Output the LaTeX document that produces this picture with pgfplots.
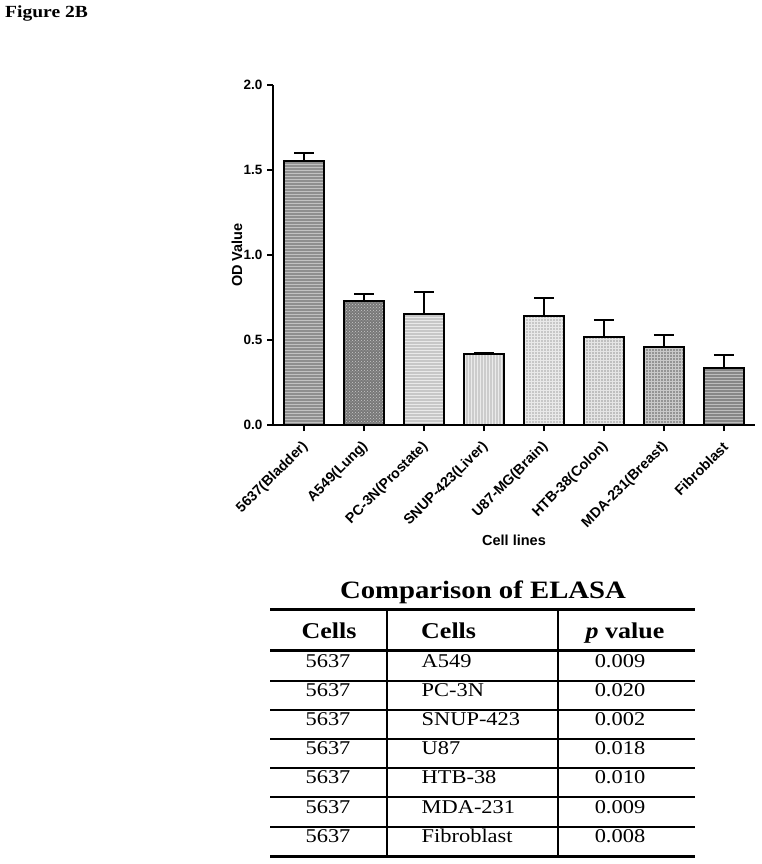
\documentclass[border=0pt]{standalone}
\usepackage{pgfplots}
\pgfplotsset{compat=1.18}
\usepackage{fontspec}
\setmainfont{Liberation Sans}
\newfontfamily\tabfont[FakeStretch=1.15]{Liberation Serif}
\usetikzlibrary{patterns}

\definecolor{fillA}{gray}{0.56}
\definecolor{fillB}{gray}{0.47}
\definecolor{fillC}{gray}{0.78}
\definecolor{fillD}{gray}{0.80}
\definecolor{fillE}{gray}{0.78}
\definecolor{fillF}{gray}{0.75}
\definecolor{fillG}{gray}{0.58}
\definecolor{fillH}{gray}{0.53}

\pgfplotsset{
  mybar/.style={ybar, bar shift=0pt, bar width=40pt, draw=black, line width=1.8pt,
    error bars/.cd, y dir=plus, y explicit,
    error bar style={line width=1.8pt, black},
    error mark options={rotate=90, line width=1.8pt, mark size=10pt, black}},
}

\begin{document}
\begin{tikzpicture}
\begin{scope}[x=1pt,y=-1pt]
\path[use as bounding box] (0,0) rectangle (762,864);
\end{scope}

\begin{axis}[
  at={(273pt,-425pt)}, anchor=south west,
  scale only axis, width=482pt, height=340pt,
  xmin=-0.517, xmax=7.517, ymin=0, ymax=2,
  axis x line*=bottom, axis y line*=left,
  axis line style={-, line width=2.4pt},
  tick align=outside, major tick length=6pt,
  tick style={line width=2pt, black},
  xtick={0,...,7},
  xticklabels={5637(Bladder), A549(Lung), PC-3N(Prostate), SNUP-423(Liver),
               U87-MG(Brain), HTB-38(Colon), MDA-231(Breast), Fibroblast},
  ytick={0,0.5,...,2},
  yticklabel style={font=\fontsize{13.5}{15}\selectfont\bfseries,
    /pgf/number format/.cd, fixed, fixed zerofill, precision=1, assume math mode=true},
  xticklabel style={xshift=4pt, rotate=45, anchor=east, font=\fontsize{14.2}{16}\selectfont\bfseries},
  xticklabel shift=11pt,
  yticklabel shift=1pt,
  xlabel={Cell lines}, ylabel={OD Value},
  label style={font=\fontsize{14.5}{17}\selectfont\bfseries},
  xlabel style={at={(axis description cs:0.5,-0.338)}, anchor=center},
  ylabel style={at={(axis description cs:-0.0747,0.5)}, anchor=center},
  clip=false,
]
\addplot[fill=fillA, postaction={pattern=horizontal lines, pattern color=white!45!fillA}, mybar]
  coordinates {(0,1.555) +- (0,0.043)};
\addplot[fill=fillB, postaction={pattern=crosshatch dots, pattern color=white!60!fillB}, mybar]
  coordinates {(1,0.729) +- (0,0.041)};
\addplot[fill=fillC, postaction={pattern=horizontal lines, pattern color=white!60!fillC}, mybar]
  coordinates {(2,0.653) +- (0,0.131)};
\addplot[fill=fillD, postaction={pattern=vertical lines, pattern color=white!60!fillD}, mybar]
  coordinates {(3,0.418) +- (0,0.007)};
\addplot[fill=fillE, postaction={pattern=grid, pattern color=white!60!fillE}, mybar]
  coordinates {(4,0.643) +- (0,0.106)};
\addplot[fill=fillF, postaction={pattern=grid, pattern color=white!60!fillF}, mybar]
  coordinates {(5,0.518) +- (0,0.100)};
\addplot[fill=fillG, postaction={pattern=grid, pattern color=white!50!fillG}, mybar]
  coordinates {(6,0.461) +- (0,0.067)};
\addplot[fill=fillH, postaction={pattern=horizontal lines, pattern color=white!45!fillH}, mybar]
  coordinates {(7,0.333) +- (0,0.077)};
\end{axis}

\begin{scope}[x=1pt,y=-1pt]
\node[anchor=base west, inner sep=0pt, font=\tabfont\bfseries\fontsize{17}{19}\selectfont] at (5,17.5) {Figure 2B};
\node[anchor=base, inner sep=0pt, font=\tabfont\bfseries\fontsize{25}{27}\selectfont] at (483,598) {Comparison of ELASA};
\draw[line width=3pt] (270,609) -- (695,609);
\draw[line width=3pt] (270,650) -- (695,650);
\draw[line width=3pt] (270,856) -- (695,856);
\foreach \yy in {681,710,739,768,797,827}
  \draw[line width=1.2pt] (270,\yy) -- (695,\yy);
\draw[line width=1.2pt] (387,609) -- (387,856);
\draw[line width=1.2pt] (558,609) -- (558,856);
\begin{scope}[every node/.style={inner sep=0pt, font=\tabfont\bfseries\fontsize{22.6}{24}\selectfont}]
\node[anchor=base] at (329,638.3) {Cells};
\node[anchor=base west] at (421,638.3) {Cells};
\node[anchor=base] at (625,638.3) {\textit{p} value};
\end{scope}
\begin{scope}[every node/.style={inner sep=0pt, font=\tabfont\fontsize{19.5}{21}\selectfont}]
\foreach \cl/\pv [count=\i from 0] in {A549/0.009, PC-3N/0.020, SNUP-423/0.002, U87/0.018, HTB-38/0.010, MDA-231/0.009, Fibroblast/0.008} {
  \node[anchor=base] at (328,667+29.2*\i) {5637};
  \node[anchor=base west] at (421.5,667+29.2*\i) {\cl};
  \node[anchor=base] at (620,667+29.2*\i) {\pv};
}
\end{scope}
\end{scope}
\end{tikzpicture}
\end{document}
